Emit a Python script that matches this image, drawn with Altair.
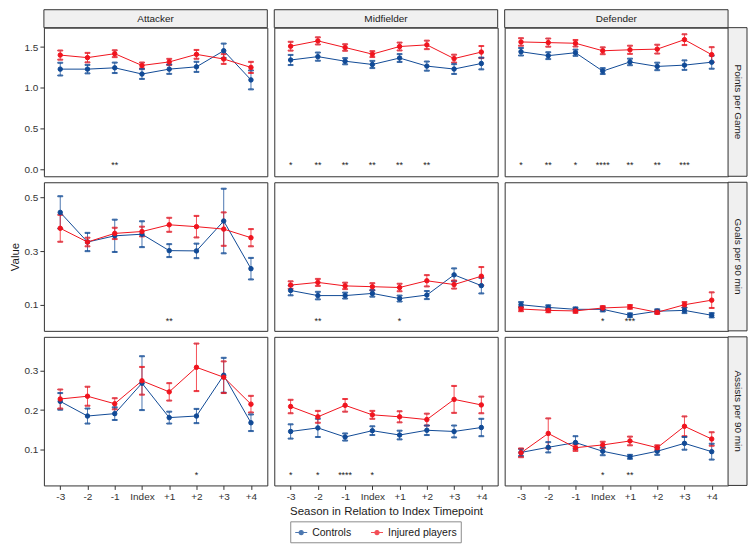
import altair as alt
import pandas as pd

seasons = ["-3", "-2", "-1", "Index", "+1", "+2", "+3", "+4"]
positions = ["Attacker", "Midfielder", "Defender"]
metrics = ["Points per Game", "Goals per 90 min", "Assists per 90 min"]
groups = ["Controls", "Injured players"]
colors = ["#114A96", "#F0141E"]

# ---- Points per Game ----
ppg_att_ctrl = [1.229, 1.229, 1.245, 1.169, 1.229, 1.257, 1.454, 1.097]
ppg_att_ctrl_err = [0.078, 0.052, 0.064, 0.060, 0.058, 0.062, 0.088, 0.116]
ppg_att_inj = [1.401, 1.370, 1.418, 1.274, 1.317, 1.410, 1.353, 1.250]
ppg_att_inj_err = [0.056, 0.058, 0.042, 0.036, 0.038, 0.054, 0.060, 0.068]
ppg_mid_ctrl = [1.341, 1.382, 1.326, 1.286, 1.365, 1.266, 1.230, 1.298]
ppg_mid_ctrl_err = [0.062, 0.050, 0.038, 0.044, 0.048, 0.056, 0.060, 0.072]
ppg_mid_inj = [1.510, 1.575, 1.494, 1.413, 1.506, 1.526, 1.358, 1.438]
ppg_mid_inj_err = [0.054, 0.044, 0.040, 0.036, 0.048, 0.052, 0.048, 0.074]
ppg_def_ctrl = [1.442, 1.394, 1.430, 1.205, 1.317, 1.262, 1.278, 1.314]
ppg_def_ctrl_err = [0.046, 0.042, 0.038, 0.036, 0.040, 0.046, 0.058, 0.080]
ppg_def_inj = [1.562, 1.554, 1.546, 1.454, 1.466, 1.474, 1.590, 1.406]
ppg_def_inj_err = [0.046, 0.050, 0.040, 0.042, 0.050, 0.054, 0.066, 0.092]

# ---- Goals per 90 min ----
gpm_att_ctrl = [0.444, 0.334, 0.357, 0.363, 0.302, 0.301, 0.412, 0.235]
gpm_att_ctrl_err = [0.060, 0.034, 0.060, 0.048, 0.024, 0.027, 0.120, 0.040]
gpm_att_inj = [0.385, 0.334, 0.366, 0.373, 0.398, 0.391, 0.382, 0.350]
gpm_att_inj_err = [0.050, 0.016, 0.021, 0.018, 0.026, 0.040, 0.062, 0.032]
gpm_mid_ctrl = [0.154, 0.135, 0.135, 0.143, 0.124, 0.137, 0.212, 0.172]
gpm_mid_ctrl_err = [0.018, 0.014, 0.011, 0.012, 0.011, 0.015, 0.024, 0.029]
gpm_mid_inj = [0.174, 0.184, 0.171, 0.168, 0.165, 0.190, 0.176, 0.207]
gpm_mid_inj_err = [0.014, 0.013, 0.012, 0.013, 0.014, 0.021, 0.015, 0.034]
gpm_def_ctrl = [0.101, 0.091, 0.084, 0.084, 0.062, 0.077, 0.080, 0.062]
gpm_def_ctrl_err = [0.010, 0.008, 0.007, 0.008, 0.007, 0.007, 0.010, 0.008]
gpm_def_inj = [0.085, 0.080, 0.078, 0.089, 0.093, 0.073, 0.101, 0.118]
gpm_def_inj_err = [0.008, 0.007, 0.007, 0.007, 0.007, 0.006, 0.010, 0.029]

# ---- Assists per 90 min ----
apm_att_ctrl = [0.222, 0.185, 0.191, 0.268, 0.181, 0.185, 0.288, 0.168]
apm_att_ctrl_err = [0.021, 0.019, 0.016, 0.068, 0.015, 0.018, 0.044, 0.021]
apm_att_inj = [0.228, 0.235, 0.216, 0.274, 0.246, 0.308, 0.283, 0.215]
apm_att_inj_err = [0.024, 0.024, 0.014, 0.035, 0.022, 0.060, 0.040, 0.021]
apm_mid_ctrl = [0.146, 0.155, 0.132, 0.148, 0.137, 0.149, 0.146, 0.156]
apm_mid_ctrl_err = [0.018, 0.023, 0.009, 0.011, 0.011, 0.012, 0.015, 0.022]
apm_mid_inj = [0.209, 0.183, 0.212, 0.188, 0.183, 0.176, 0.227, 0.213]
apm_mid_inj_err = [0.017, 0.015, 0.016, 0.010, 0.014, 0.015, 0.034, 0.021]
apm_def_ctrl = [0.093, 0.106, 0.118, 0.096, 0.082, 0.096, 0.116, 0.095]
apm_def_ctrl_err = [0.009, 0.013, 0.016, 0.010, 0.005, 0.009, 0.016, 0.020]
apm_def_inj = [0.092, 0.141, 0.105, 0.112, 0.122, 0.105, 0.159, 0.127]
apm_def_inj_err = [0.011, 0.038, 0.008, 0.008, 0.011, 0.006, 0.025, 0.017]

# ---- significance labels ----
sig_ppg_att = ["", "", "**", "", "", "", "", ""]
sig_ppg_mid = ["*", "**", "**", "**", "**", "**", "", ""]
sig_ppg_def = ["*", "**", "*", "****", "**", "**", "***", ""]
sig_gpm_att = ["", "", "", "", "**", "", "", ""]
sig_gpm_mid = ["", "**", "", "", "*", "", "", ""]
sig_gpm_def = ["", "", "", "*", "***", "", "", ""]
sig_apm_att = ["", "", "", "", "", "*", "", ""]
sig_apm_mid = ["*", "*", "****", "*", "", "", "", ""]
sig_apm_def = ["", "", "", "*", "**", "", "", ""]

row_domains = [[-0.084, 1.737], [0.004, 0.556], [0.0097, 0.385]]
row_ticks = [[0.0, 0.5, 1.0, 1.5], [0.1, 0.2, 0.3, 0.4, 0.5], [0.1, 0.2, 0.3]]
sig_level = [0.0, 0.027, 0.027]

series = {
    (0, 0): (ppg_att_ctrl, ppg_att_ctrl_err, ppg_att_inj, ppg_att_inj_err, sig_ppg_att),
    (0, 1): (ppg_mid_ctrl, ppg_mid_ctrl_err, ppg_mid_inj, ppg_mid_inj_err, sig_ppg_mid),
    (0, 2): (ppg_def_ctrl, ppg_def_ctrl_err, ppg_def_inj, ppg_def_inj_err, sig_ppg_def),
    (1, 0): (gpm_att_ctrl, gpm_att_ctrl_err, gpm_att_inj, gpm_att_inj_err, sig_gpm_att),
    (1, 1): (gpm_mid_ctrl, gpm_mid_ctrl_err, gpm_mid_inj, gpm_mid_inj_err, sig_gpm_mid),
    (1, 2): (gpm_def_ctrl, gpm_def_ctrl_err, gpm_def_inj, gpm_def_inj_err, sig_gpm_def),
    (2, 0): (apm_att_ctrl, apm_att_ctrl_err, apm_att_inj, apm_att_inj_err, sig_apm_att),
    (2, 1): (apm_mid_ctrl, apm_mid_ctrl_err, apm_mid_inj, apm_mid_inj_err, sig_apm_mid),
    (2, 2): (apm_def_ctrl, apm_def_ctrl_err, apm_def_inj, apm_def_inj_err, sig_apm_def),
}

W, H = 224, 149
FONT = "Liberation Sans, Arial, sans-serif"
legend_path = ("M-1,0L1,0M-0.34,0A0.34,0.34,0,1,1,0.34,0"
               "A0.34,0.34,0,1,1,-0.34,0Z")

color_scale = alt.Scale(domain=groups, range=colors)
legend = alt.Legend(
    orient="none", legendX=247, legendY=495, direction="horizontal",
    title=None, strokeColor="#8c8c8c", padding=4, labelFontSize=10.5,
    labelFont=FONT, labelColor="#1a1a1a", columnPadding=16,
    symbolType=legend_path, symbolSize=144, symbolStrokeWidth=1.1,
)


def stroke_ch():
    return alt.Stroke("group:N", scale=color_scale, legend=legend)


def panel(r, c):
    ctrl, ctrl_e, inj, inj_e, sig = series[(r, c)]
    rows = []
    for g, vals, errs in ((groups[0], ctrl, ctrl_e), (groups[1], inj, inj_e)):
        for i, (s, v, e) in enumerate(zip(seasons, vals, errs)):
            rows.append({"season": s, "idx": i, "group": g, "value": v,
                         "lo": v - e, "hi": v + e})
    d = pd.DataFrame(rows)
    sdf = pd.DataFrame({"season": seasons, "label": sig,
                        "value": [sig_level[r]] * len(seasons)})
    sdf = sdf[sdf["label"] != ""]

    xscale = alt.Scale(type="point", padding=0.6, domain=seasons)
    if r == 2:
        xkw = {"axis": alt.Axis(labelAngle=0, domain=False,
                                title=("Season in Relation to Index Timepoint" if c == 1 else ""))}
    else:
        xkw = {"axis": None}
    yscale = alt.Scale(domain=row_domains[r], nice=False, zero=False)
    if c == 0:
        ykw = {"axis": alt.Axis(values=row_ticks[r], format=".1f", domain=False,
                                title=("Value" if r == 1 else ""))}
    else:
        ykw = {"axis": None}

    base = alt.Chart(d)
    x = alt.X("season:N", scale=xscale, sort=seasons, **xkw)

    rules = base.mark_rule(strokeWidth=1, opacity=0.75).encode(
        x=x, y=alt.Y("lo:Q", scale=yscale, **ykw), y2="hi:Q", stroke=stroke_ch())
    cap_lo = base.mark_tick(thickness=1, size=5, opacity=0.85).encode(
        x=x, y=alt.Y("lo:Q", scale=yscale), stroke=stroke_ch())
    cap_hi = base.mark_tick(thickness=1, size=5, opacity=0.85).encode(
        x=x, y=alt.Y("hi:Q", scale=yscale), stroke=stroke_ch())
    lines = base.mark_line(strokeWidth=1).encode(
        x=x, y=alt.Y("value:Q", scale=yscale), stroke=stroke_ch(),
        order=alt.Order("idx:Q"))
    pts = base.mark_point(filled=True, size=20, opacity=1, strokeWidth=1).encode(
        x=x, y=alt.Y("value:Q", scale=yscale),
        fill=alt.Fill("group:N", scale=color_scale, legend=legend),
        stroke=stroke_ch())
    txt = alt.Chart(sdf).mark_text(fontSize=9, baseline="middle", color="#1a1a1a",
                                   font=FONT, dy=-4).encode(
        x=x, y=alt.Y("value:Q", scale=yscale), text="label:N")

    layers = [rules, cap_lo, cap_hi, lines, pts, txt]
    one = pd.DataFrame({"k": [0]})
    if r == 0:
        strip = alt.Chart(one).mark_rect(fill="#f0f0f0", stroke="#333333",
                                         strokeWidth=1).encode(
            x=alt.value(0), x2=alt.value(W), y=alt.value(-18), y2=alt.value(0))
        stxt = alt.Chart(one).mark_text(fontSize=10, color="#1a1a1a",
                                        font=FONT, baseline="middle").encode(
            x=alt.value(W / 2), y=alt.value(-9), text=alt.value(positions[c]))
        layers += [strip, stxt]
    if c == 2:
        rstrip = alt.Chart(one).mark_rect(fill="#f0f0f0", stroke="#333333",
                                          strokeWidth=1).encode(
            x=alt.value(W), x2=alt.value(W + 19), y=alt.value(0), y2=alt.value(H))
        rtxt = alt.Chart(one).mark_text(fontSize=10, color="#1a1a1a", angle=90,
                                        font=FONT, baseline="middle").encode(
            x=alt.value(W + 9.5), y=alt.value(H / 2), text=alt.value(metrics[r]))
        layers += [rstrip, rtxt]
    return alt.layer(*layers).properties(width=W, height=H)


panels = [panel(r, c) for r in range(3) for c in range(3)]

chart = alt.concat(*panels, columns=3, spacing={"row": 6, "column": 7},
                   bounds="flush").properties(
    padding={"left": 0, "top": 0, "right": 0, "bottom": 0}
).configure_view(
    stroke="#333333", strokeWidth=1
).configure_axis(
    grid=False, labelFont=FONT, labelFontSize=10, labelColor="#333333",
    tickColor="#333333", tickSize=4, labelPadding=2,
    titleFont=FONT, titleFontSize=11.5, titleFontWeight="normal",
    titleColor="#1a1a1a", titlePadding=4
)

chart.save("out.html", embed_options={"renderer": "svg", "actions": False})
